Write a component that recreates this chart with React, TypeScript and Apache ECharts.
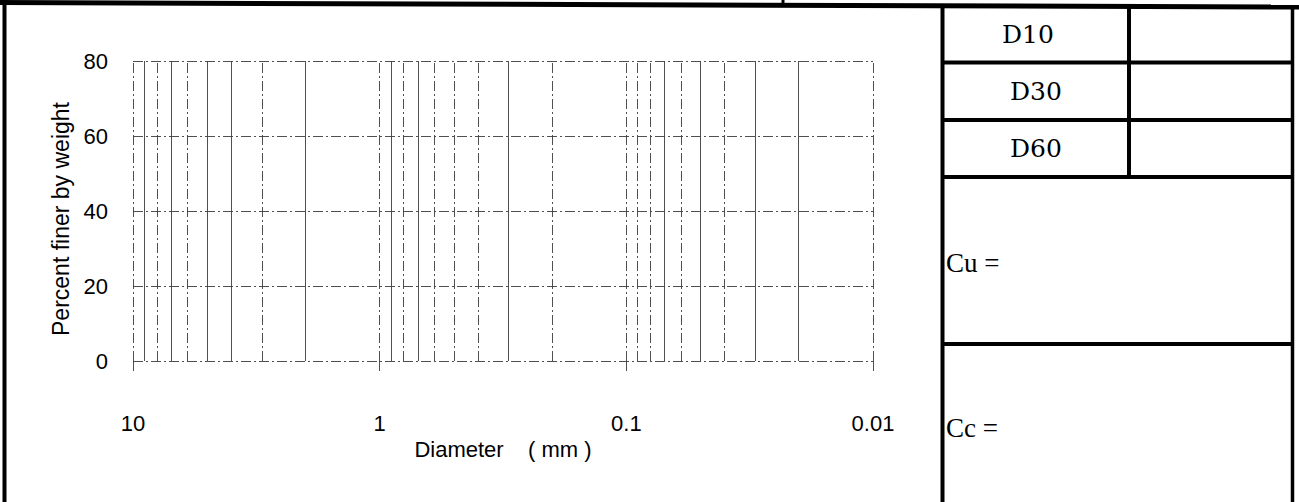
import React, { useEffect, useRef } from "react";
import * as echarts from "echarts";

// ---- data ----
const xTickLabels = ["10", "1", "0.1", "0.01"];
const yTicks = [0, 20, 40, 60, 80];
const gridDiameters = [
  10, 9, 8, 7, 6, 5, 4, 3, 2,
  1, 0.9, 0.8, 0.7, 0.6, 0.5, 0.4, 0.3, 0.2,
  0.1, 0.09, 0.08, 0.07, 0.06, 0.05, 0.04, 0.03, 0.02,
  0.01,
];
const tableRowLabels = ["D10", "D30", "D60"];
const coefficientLabels = ["Cu =", "Cc ="];
const xAxisTitle = "Diameter    ( mm )";
const yAxisTitle = "Percent finer by weight";

// ---- styles (not data) ----
const solidGridLines = new Set([9, 7, 5, 4, 2, 0.9, 0.7, 0.3, 0.07, 0.05, 0.03, 0.02]);
const GRID_COLOR = "#3c3c3c";
const DASH_DOT = [10, 3, 2, 3];
const FRAME = "#000";

export default function App() {
  const ref = useRef<HTMLDivElement>(null);

  useEffect(() => {
    if (!ref.current) return;
    const chart = echarts.init(ref.current, undefined, { renderer: "svg" });

    const frameLine = (x1: number, y1: number, x2: number, y2: number, w: number) => ({
      type: "line",
      silent: true,
      shape: { x1, y1, x2, y2 },
      style: { stroke: FRAME, lineWidth: w },
    });

    const dPos = [
      { x: 1028, y: 34 },
      { x: 1036, y: 91 },
      { x: 1036, y: 148 },
    ];
    const cPos = [
      { x: 946, y: 263 },
      { x: 946, y: 428 },
    ];

    const option: any = {
      animation: false,
      backgroundColor: "#fff",
      grid: { left: 133, right: 426, top: 61, bottom: 141 },
      xAxis: {
        type: "log",
        logBase: 10,
        min: 0.01,
        max: 10,
        inverse: true,
        name: xAxisTitle,
        nameLocation: "middle",
        nameGap: 75,
        nameTextStyle: { fontFamily: "Liberation Sans", fontSize: 22, color: "#000" },
        axisLine: { show: false },
        axisTick: { show: true, length: 10, lineStyle: { color: GRID_COLOR, width: 0.9 } },
        axisLabel: {
          margin: 51,
          fontFamily: "Liberation Sans",
          fontSize: 22,
          color: "#000",
          formatter: (v: number) => {
            const found = xTickLabels.find((l) => Math.abs(Number(l) - v) / Number(l) < 1e-6);
            return found ?? "";
          },
        },
        splitLine: { show: false },
      },
      yAxis: {
        type: "value",
        min: yTicks[0],
        max: yTicks[yTicks.length - 1],
        interval: 20,
        name: yAxisTitle,
        nameLocation: "middle",
        nameRotate: 90,
        nameGap: 58,
        nameTextStyle: {
          fontFamily: "Liberation Sans",
          fontSize: 23,
          color: "#000",
          padding: [0, 16, 0, 0],
        },
        axisLine: { show: false },
        axisTick: { show: false },
        axisLabel: { margin: 25, fontFamily: "Liberation Sans", fontSize: 22, color: "#000" },
        splitLine: { show: true, lineStyle: { color: GRID_COLOR, width: 0.9, type: DASH_DOT } },
      },
      series: [
        {
          type: "line",
          data: [],
          silent: true,
          markLine: {
            silent: true,
            symbol: "none",
            label: { show: false },
            data: gridDiameters.map((d) => ({
              xAxis: d,
              lineStyle: {
                color: GRID_COLOR,
                width: 0.9,
                type: solidGridLines.has(d) ? "solid" : DASH_DOT,
              },
            })),
          },
        },
      ],
      graphic: [
        // outer frame
        frameLine(0, 2.5, 1299, 7, 5),
        frameLine(4.5, 0, 4.5, 502, 4),
        frameLine(783, 0, 783, 5, 3),
        // table
        frameLine(942.5, 5, 942.5, 502, 4),
        frameLine(1292.5, 5, 1292.5, 502, 3.5),
        frameLine(1129, 6, 1129, 177, 4),
        frameLine(942.5, 62.5, 1292.5, 62.5, 4),
        frameLine(942.5, 120, 1292.5, 120, 4),
        frameLine(942.5, 177, 1292.5, 177, 4),
        frameLine(942.5, 344, 1292.5, 344, 4),
        ...tableRowLabels.map((t, i) => ({
          type: "text",
          silent: true,
          x: dPos[i].x,
          y: dPos[i].y,
          style: {
            text: t,
            fontFamily: "DejaVu Serif",
            fontSize: 25,
            fill: "#000",
            align: "center",
            verticalAlign: "middle",
          },
        })),
        ...coefficientLabels.map((t, i) => ({
          type: "text",
          silent: true,
          x: cPos[i].x,
          y: cPos[i].y,
          style: {
            text: t,
            fontFamily: "Liberation Serif",
            fontSize: 27,
            fill: "#000",
            align: "left",
            verticalAlign: "middle",
          },
        })),
      ],
    };

    chart.setOption(option);
    return () => chart.dispose();
  }, []);

  return (
    <div
      ref={ref}
      style={{ position: "fixed", left: 0, top: 0, width: 1299, height: 502, background: "#fff" }}
    />
  );
}
